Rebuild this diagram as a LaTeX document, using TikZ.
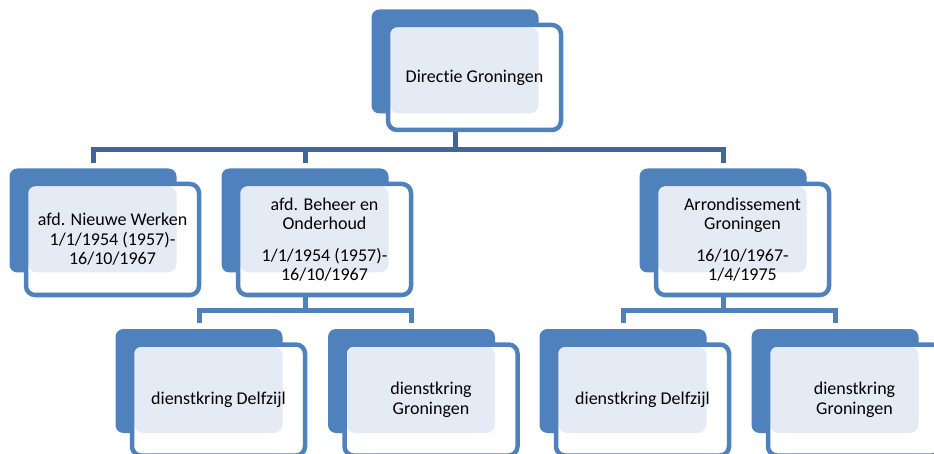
\documentclass[tikz,border=0pt]{standalone}
\usepackage{fontspec}
\setmainfont{Carlito}[Ligatures={NoCommon}]
\definecolor{boxblue}{RGB}{79,129,189}
\definecolor{linkblue}{RGB}{62,104,156}
\definecolor{dotblue}{RGB}{229,235,245}

\begin{document}
\begin{tikzpicture}[x=1pt,y=-1pt,
    backbox/.style={fill=boxblue,rounded corners=8pt,minimum width=167pt,minimum height=104pt,inner sep=0pt,outer sep=0pt},
    unitbox/.style={draw=boxblue,line width=4.5pt,fill=white,rounded corners=9pt,minimum width=173pt,minimum height=111pt,inner sep=0pt,outer sep=0pt,align=center,font=\fontsize{18}{19.5}\selectfont,
      path picture={\fill[dotblue] ([xshift=2pt,yshift=-2pt]path picture bounding box.north west) rectangle (#1.south east);}},
    link/.style={linkblue,line width=5pt},
    sublink/.style={link,boxblue}]
        \clip (0,0) rectangle (934,454);

        % top
        \node[backbox] (dirB) at (455,61.5) {};
        \node[unitbox=dirB,minimum height=105pt] (dir) at (474.5,77.5) {Directie Groningen};

        % afdelingen
        \node[backbox] (nwB) at (93,220.5) {};
        \node[unitbox=nwB] (nw) at (112.5,239.5) {afd. Nieuwe Werken\\1/1/1954 (1957)-\\16/10/1967};
        \node[backbox] (boB) at (305,220.5) {};
        \node[unitbox=boB] (bo) at (324.5,239.5) {afd. Beheer en\\Onderhoud\\[12pt]1/1/1954 (1957)-\\16/10/1967};
        \node[backbox] (arB) at (723,220.5) {};
        \node[unitbox=arB] (ar) at (742.5,239.5) {Arrondissement\\Groningen\\[12pt]16/10/1967-\\1/4/1975};

        % dienstkringen
        \node[backbox] (d1B) at (199,381) {};
        \node[unitbox=d1B] (d1) at (218.5,400) {dienstkring Delfzijl};
        \node[backbox] (g1B) at (411.5,381) {};
        \node[unitbox=g1B] (g1) at (431,400) {dienstkring\\Groningen};
        \node[backbox] (d2B) at (623,381) {};
        \node[unitbox=d2B] (d2) at (642.5,400) {dienstkring Delfzijl};
        \node[backbox] (g2B) at (835,381) {};
        \node[unitbox=g2B] (g2) at (854.5,400) {dienstkring\\Groningen};

        \coordinate (bus1) at (455,149.5);
        \coordinate (bus2) at (305,310);
        \coordinate (bus3) at (723,310);

        \draw[link] ([yshift=-2pt]dirB |- dir.south) -- (bus1);
        \draw[link] ([yshift=5pt]nwB.north) |- (bus1) -| ([yshift=5pt]arB.north);
        \draw[link] (bus1 -| boB) -- ([yshift=5pt]boB.north);

        \draw[sublink] ([yshift=-2pt]boB |- bo.south) -- (bus2);
        \draw[sublink] ([yshift=6pt]d1B.north) |- (bus2) -| ([yshift=6pt]g1B.north);
        \draw[sublink] ([yshift=-2pt]arB |- ar.south) -- (bus3);
        \draw[sublink] ([yshift=6pt]d2B.north) |- (bus3) -| ([yshift=6pt]g2B.north);
    \end{tikzpicture}
\end{document}
